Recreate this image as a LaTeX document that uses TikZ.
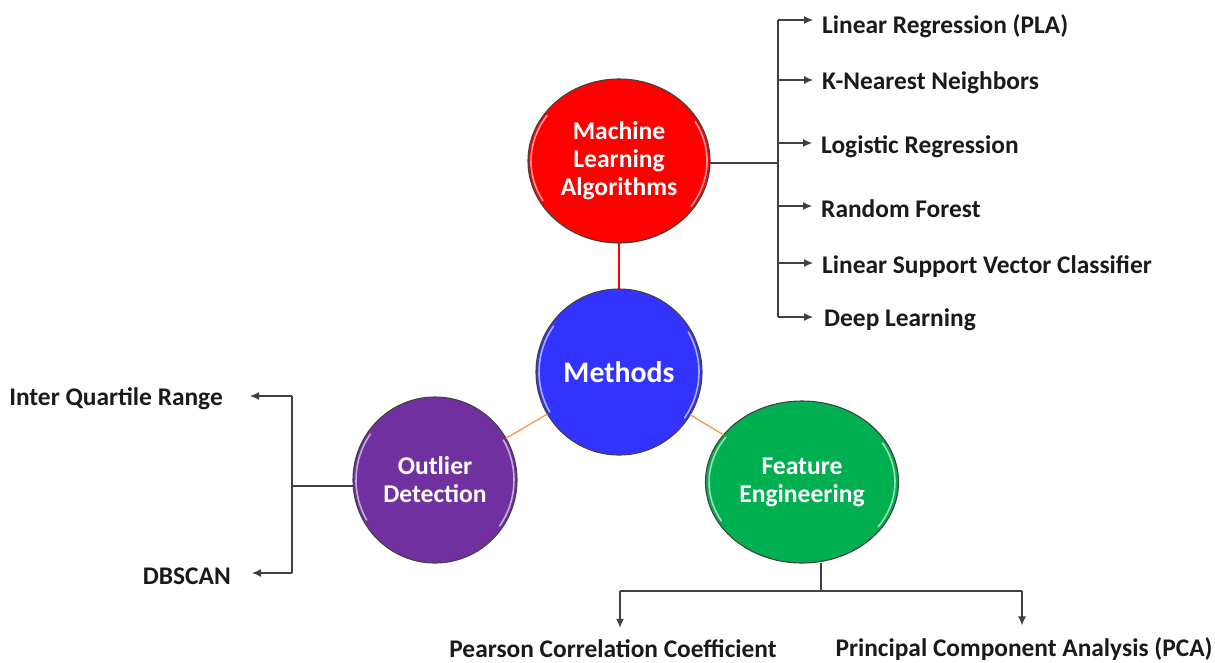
\documentclass[tikz,border=0pt]{standalone}
\usepackage{fontspec}
\setmainfont{Carlito}
\usetikzlibrary{shapes.geometric,arrows.meta,calc}
\definecolor{mlred}{HTML}{FF0000}
\definecolor{methblue}{HTML}{3333FF}
\definecolor{outpurple}{HTML}{7030A0}
\definecolor{fegreen}{HTML}{00B050}
\definecolor{linkorange}{HTML}{F79646}
\definecolor{rimgray}{HTML}{404040}
\definecolor{txtblack}{HTML}{1A1A1A}
\tikzset{
  bubble/.style={ellipse, draw=rimgray, line width=1.1pt, inner sep=0pt, outer sep=0pt,
    text=white, align=center, font=\bfseries\fontsize{25.6}{28}\selectfont},
  glossy/.style={white, opacity=.6, line width=1.6pt, line cap=round},
  leaf/.style={text=txtblack, font=\bfseries\fontsize{25.4}{28}\selectfont, inner sep=2pt},
  ln/.style={draw=rimgray, line width=1.2pt},
  arr/.style={ln, -{Latex[length=9pt,width=8pt]}},
}
\newcommand\glossrim[3]{%
  \draw[glossy] ($(#1.center)+(150:#2 and #3)$) arc[start angle=150,end angle=215,x radius=#2,y radius=#3];
  \draw[glossy] ($(#1.center)+(-30:#2 and #3)$) arc[start angle=-30,end angle=35,x radius=#2,y radius=#3];
}
\begin{document}
\begin{tikzpicture}[x=1pt,y=-1pt]
\useasboundingbox (0,0) rectangle (1215,662);

% circles
\node[bubble, fill=mlred, minimum width=182pt, minimum height=164pt] (ml) at (619,161) {Machine\\Learning\\Algorithms};
\node[bubble, fill=methblue, minimum width=166pt, minimum height=166pt, font=\bfseries\fontsize{29.8}{33}\selectfont] (meth) at (619,372) {Methods};
\node[bubble, fill=outpurple, minimum width=164pt, minimum height=166pt] (out) at (435,480) {Outlier\\Detection};
\node[bubble, fill=fegreen, minimum width=193pt, minimum height=162pt] (fe) at (802,482) {Feature\\Engineering};

\glossrim{ml}{88}{79}
\glossrim{meth}{80}{80}
\glossrim{out}{79}{80}
\glossrim{fe}{93}{78}

% links between circles
\draw[draw=mlred, line width=1.6pt] (ml.south) -- (meth.north);
\draw[draw=linkorange, line width=1.3pt] (meth) -- (out);
\draw[draw=linkorange, line width=1.3pt] (meth) -- (fe);

% machine learning branch
\node[leaf, anchor=west] (l1) at (820,26) {Linear Regression (PLA)};
\node[leaf, anchor=west] (l2) at (820,83) {K-Nearest Neighbors};
\node[leaf, anchor=west] (l3) at (819,147) {Logistic Regression};
\node[leaf, anchor=west] (l4) at (819,209) {Random Forest};
\node[leaf, anchor=west] (l5) at (820,267) {Linear Support Vector Classifier};
\node[leaf, anchor=west] (l6) at (822,320) {Deep Learning};
\coordinate (mlbusT) at (778,20);
\coordinate (mlbusM) at (778,163);
\coordinate (mlbusB) at (778,317);
\draw[ln] (mlbusM -| ml.east) -- (mlbusM);
\draw[ln] (mlbusT) -- (mlbusB);
\draw[arr] (mlbusT) -- ($(l1.west)+(-7,-6)$);
\draw[arr] ($(l2.west)+(-42,-3)$) -- ++(35,0);
\draw[arr] ($(l3.west)+(-41,-4)$) -- ++(34,0);
\draw[arr] ($(l4.west)+(-41,-3)$) -- ++(34,0);
\draw[arr] ($(l5.west)+(-42,-4)$) -- ++(35,0);
\draw[arr] (mlbusB) -- ($(l6.west)+(-9,-3)$);

% outlier branch
\node[leaf, anchor=east] (o1) at (225,399) {Inter Quartile Range};
\node[leaf, anchor=east] (o2) at (233,576) {DBSCAN};
\coordinate (obusT) at (292,396);
\coordinate (obusM) at (292,486);
\coordinate (obusB) at (292,573);
\draw[ln] (obusM -| out.west) -- (obusM);
\draw[ln] (obusT) -- (obusB);
\draw[arr] (obusT) -- ($(o1.east)+(25,-3)$);
\draw[arr] (obusB) -- ($(o2.east)+(19,-3)$);

% feature engineering branch
\node[leaf] (f1) at (613,649) {Pearson Correlation Coefficient};
\node[leaf] (f2) at (1024,649) {Principal Component Analysis (PCA)};
\coordinate (fej) at (821,591);
\coordinate (fl) at (620,591);
\coordinate (fr) at (1022,591);
\draw[ln] (fe.south -| fej) -- (fej);
\draw[ln] (fl) -- (fr);
\draw[arr] (fl) -- ($(fl |- f1.north)+(0,-10)$);
\draw[arr] (fr) -- ($(fr |- f2.north)+(0,-10)$);
\end{tikzpicture}
\end{document}
